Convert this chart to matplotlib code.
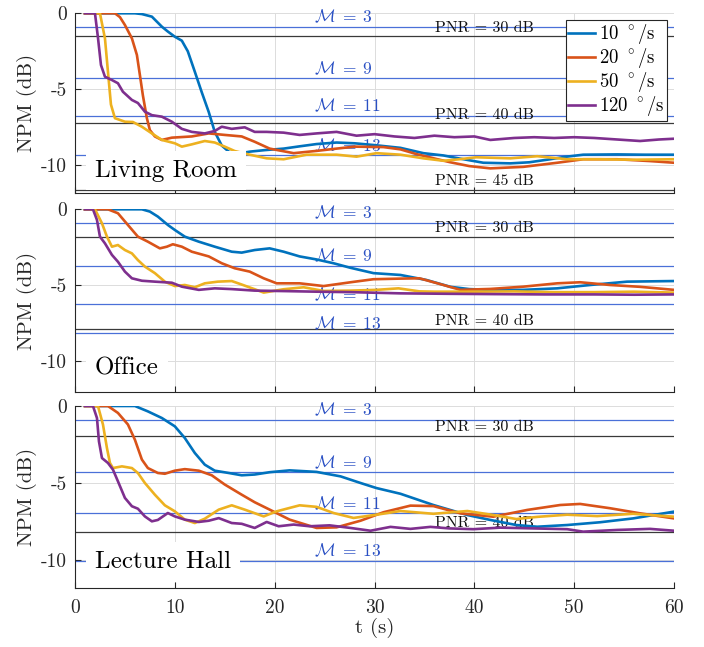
import matplotlib
matplotlib.use("Agg")
import matplotlib.pyplot as plt

plt.rcParams['font.family'] = 'cmr10'
plt.rcParams['mathtext.fontset'] = 'cm'
plt.rcParams['axes.unicode_minus'] = False
plt.rcParams['axes.formatter.use_mathtext'] = True

# ---------------- data ----------------
speeds = ["10", "20", "50", "120"]
colors = ["#0072BD", "#D95319", "#EDB120", "#7E2F8E"]
rooms = ["Living Room", "Office", "Lecture Hall"]

# Living Room
lr_t_10 = [1, 6, 6.7, 7.7, 8.7, 9.3, 10, 10.7, 11.3, 12, 12.7, 13.4, 14, 14.7, 15.4, 16.2, 17.5, 19, 20.9, 22.5, 24.2, 26.2, 28, 30, 32.6, 34.9, 36.9, 38.5, 40.9, 43.6, 45.5, 47.6, 49, 50.9, 54.3, 57, 60]
lr_v_10 = [0, 0, -0.05, -0.22, -0.88, -1.2, -1.54, -1.8, -2.5, -3.84, -5.2, -6.5, -7.8, -8.7, -9.1, -9.25, -9.1, -9.0, -8.9, -8.75, -8.6, -8.5, -8.55, -8.67, -8.85, -9.2, -9.35, -9.55, -9.83, -9.87, -9.8, -9.6, -9.45, -9.3, -9.28, -9.3, -9.3]
lr_t_20 = [1, 4, 4.5, 5, 5.7, 6.2, 6.5, 6.8, 7.2, 7.5, 8, 8.7, 9.7, 11.7, 13.4, 15, 16.7, 18, 19.5, 21.9, 24.2, 26.2, 28, 30.9, 32.6, 34.2, 36, 37.6, 39.5, 41.6, 44.9, 48.3, 50.9, 54.3, 57.6, 60]
lr_v_20 = [0, 0, -0.25, -0.77, -1.65, -2.74, -4.06, -5.4, -6.9, -7.68, -8.1, -8.33, -8.18, -8.1, -7.9, -8.0, -8.1, -8.45, -8.9, -9.2, -9.05, -8.9, -8.77, -8.8, -8.95, -9.26, -9.55, -9.8, -10.05, -10.2, -10.1, -9.83, -9.6, -9.6, -9.72, -9.83]
lr_t_50 = [1, 2.5, 3, 3.3, 3.6, 4, 5, 5.8, 6.7, 7.7, 8.7, 10, 10.7, 11.7, 13, 14, 15, 16, 17.5, 19.2, 20.9, 23.2, 26.2, 28.2, 30.2, 32.6, 34.9, 36.9, 38.5, 40.2, 43.6, 46.3, 49.3, 52.6, 55.9, 60]
lr_v_50 = [0, 0, -1.65, -3.84, -6.0, -6.9, -7.13, -7.15, -7.46, -7.9, -8.33, -8.55, -8.77, -8.62, -8.4, -8.5, -8.77, -9.06, -9.3, -9.54, -9.6, -9.3, -9.3, -9.43, -9.2, -9.3, -9.54, -9.7, -9.6, -9.47, -9.54, -9.4, -9.6, -9.6, -9.63, -9.6]
lr_t_120 = [1, 2, 2.3, 2.6, 3, 3.7, 4.3, 4.8, 5.7, 6.3, 7, 7.7, 8.7, 9.7, 10.7, 11.7, 13, 14, 14.7, 15.7, 17, 18, 19.2, 20.9, 22.5, 24.2, 26.2, 28.2, 30, 32, 34, 36, 38, 40, 41.6, 44, 46, 48, 50, 52, 54.3, 56.6, 58.5, 60]
lr_v_120 = [0, 0, -1.6, -3.4, -4.17, -4.39, -4.6, -5.16, -5.7, -5.9, -6.47, -6.7, -6.8, -7.13, -7.6, -7.8, -7.9, -7.74, -7.46, -7.6, -7.5, -7.8, -7.8, -7.85, -8.0, -7.9, -7.8, -8.05, -7.95, -8.1, -8.2, -8.05, -8.15, -8.1, -8.33, -8.2, -8.15, -8.2, -8.15, -8.2, -8.3, -8.4, -8.3, -8.25]

# Office
of_t_10 = [1, 6.7, 7.5, 8.3, 9.3, 10, 11, 12.4, 14, 15.7, 16.7, 18, 19.5, 20.9, 22.5, 24.2, 25.9, 27.6, 29.9, 32.6, 35.2, 37.6, 39.5, 41.6, 44.9, 48.3, 51.6, 55.3, 60]
of_v_10 = [0, 0, -0.15, -0.48, -1.03, -1.36, -1.8, -2.13, -2.46, -2.79, -2.85, -2.68, -2.57, -2.79, -3.1, -3.3, -3.55, -3.85, -4.2, -4.32, -4.65, -5.1, -5.25, -5.3, -5.3, -5.2, -4.98, -4.76, -4.72]
of_t_20 = [1, 3.3, 4.3, 5.3, 6.3, 7.3, 8.5, 9.2, 9.8, 10.7, 11.7, 13.4, 14.7, 16, 17.5, 18.9, 20.2, 22.5, 24.9, 27.6, 29.9, 32.6, 34.5, 36.9, 38.6, 41.6, 44.9, 48.3, 50.6, 53.6, 56.6, 60]
of_v_20 = [0, 0, -0.26, -1.03, -1.8, -2.13, -2.57, -2.46, -2.3, -2.46, -2.79, -3.1, -3.55, -3.88, -4.1, -4.54, -4.87, -4.87, -5.05, -4.8, -4.6, -4.56, -4.54, -4.98, -5.3, -5.24, -5.09, -4.87, -4.8, -4.98, -5.1, -5.3]
of_t_50 = [1, 2, 2.7, 3.2, 3.7, 4.3, 5, 5.7, 6.3, 7, 8, 9, 10, 11, 12, 13, 14.3, 15.7, 16.7, 18, 18.9, 20.9, 22.9, 24.9, 27.6, 30.2, 32.4, 34.5, 36, 40, 44, 48, 52, 56, 60]
of_v_50 = [0, 0, -0.92, -1.8, -2.46, -2.35, -2.68, -2.9, -3.34, -3.77, -4.2, -4.76, -5.05, -4.98, -5.13, -4.87, -4.76, -4.72, -4.95, -5.26, -5.48, -5.26, -5.13, -5.37, -5.35, -5.3, -5.2, -5.4, -5.42, -5.42, -5.4, -5.45, -5.45, -5.42, -5.48]
of_t_120 = [1, 1.8, 2.2, 2.5, 3, 3.7, 4.3, 5, 5.7, 6.7, 8, 9.7, 10.7, 12.4, 14, 15.7, 18, 20.9, 24.2, 27.6, 32.6, 37.6, 42, 47, 52, 56, 60]
of_v_120 = [0, 0, -0.7, -1.8, -2.24, -3.0, -3.45, -4.1, -4.54, -4.7, -4.76, -4.83, -5.09, -5.3, -5.2, -5.25, -5.35, -5.38, -5.42, -5.45, -5.53, -5.56, -5.58, -5.6, -5.6, -5.62, -5.6]

# Lecture Hall
lh_t_10 = [1, 6, 7.3, 8.7, 10, 11, 12, 13, 14, 15.4, 16.7, 18, 19.5, 21.5, 24.2, 26.6, 28.6, 30.2, 32.6, 35.9, 39.3, 41.6, 44.2, 46.3, 49.3, 52.6, 55.9, 60]
lh_v_10 = [0, 0, -0.35, -0.78, -1.32, -2.08, -3.05, -3.81, -4.2, -4.35, -4.5, -4.45, -4.3, -4.18, -4.28, -4.57, -5.0, -5.33, -5.7, -6.43, -7.08, -7.4, -7.73, -7.84, -7.73, -7.55, -7.3, -6.86]
lh_t_20 = [1, 3.3, 4.3, 5.3, 6, 6.7, 7.3, 8.3, 9, 10, 11, 12.4, 13.7, 15, 16.7, 18, 19.5, 21.5, 24.2, 26.2, 28.6, 30.9, 33.6, 35.9, 38.6, 41.9, 45.3, 48.6, 50.6, 53.6, 56.6, 60]
lh_v_20 = [0, 0, -0.45, -1.2, -2.19, -3.48, -4.03, -4.35, -4.4, -4.2, -4.1, -4.2, -4.5, -5.1, -5.76, -6.25, -6.73, -7.38, -7.92, -7.88, -7.45, -6.9, -6.47, -6.5, -6.97, -7.19, -6.75, -6.43, -6.36, -6.64, -6.97, -7.3]
lh_t_50 = [1, 2.3, 2.8, 3.2, 3.5, 3.8, 4.7, 5.7, 6.3, 7, 8, 9, 10, 11, 12, 13, 14.4, 15.7, 17, 18.9, 20.2, 22.5, 24.2, 25.9, 27.9, 30.2, 32.6, 35.9, 39.3, 41.9, 44.2, 46.3, 49.3, 52.3, 55.9, 60]
lh_v_50 = [0, 0, -1.2, -2.73, -3.7, -4.03, -3.92, -4.03, -4.35, -5.0, -5.76, -6.45, -6.84, -7.38, -7.6, -7.32, -6.73, -6.45, -6.73, -7.17, -6.84, -6.45, -6.55, -6.95, -7.27, -7.06, -6.82, -7.0, -6.82, -7.08, -7.34, -7.2, -7.06, -7.15, -7.0, -7.19]
lh_t_120 = [1, 1.8, 2.2, 2.4, 2.7, 3.3, 3.8, 4.3, 5, 5.7, 6.3, 7, 7.7, 8.3, 9.3, 10, 11, 12.4, 13.4, 14.4, 15.7, 16.7, 18, 19.2, 20.4, 21.9, 23.5, 25.5, 27.6, 29.6, 31.6, 33.6, 35.6, 37.5, 39.9, 42.6, 45.9, 49.3, 50.9, 54.3, 57.6, 60]
lh_v_120 = [0, 0, -0.78, -2.3, -3.38, -3.7, -4.13, -4.89, -5.97, -6.51, -6.67, -7.17, -7.49, -7.4, -6.95, -7.17, -7.38, -7.53, -7.45, -7.28, -7.6, -7.65, -7.92, -7.53, -7.81, -7.7, -7.81, -7.75, -7.92, -8.1, -7.85, -7.98, -7.85, -7.95, -8.0, -7.9, -7.95, -8.0, -8.16, -8.05, -7.98, -8.1]

# reference levels
m_orders = [3, 9, 11, 13]
lr_m_levels = [-0.88, -4.26, -6.74, -9.35]
of_m_levels = [-0.88, -3.73, -6.25, -8.16]
lh_m_levels = [-0.91, -4.31, -6.97, -10.06]
lr_pnr = [30, 40, 45]
lr_pnr_levels = [-1.5, -7.24, -11.6]
of_pnr = [30, 40]
of_pnr_levels = [-1.8, -7.9]
lh_pnr = [30, 40]
lh_pnr_levels = [-1.93, -8.16]

panels = [
    dict(name=rooms[0], t=[lr_t_10, lr_t_20, lr_t_50, lr_t_120], v=[lr_v_10, lr_v_20, lr_v_50, lr_v_120],
         m=lr_m_levels, p=lr_pnr, pl=lr_pnr_levels, ylow=-11.8, text_y=-10.75),
    dict(name=rooms[1], t=[of_t_10, of_t_20, of_t_50, of_t_120], v=[of_v_10, of_v_20, of_v_50, of_v_120],
         m=of_m_levels, p=of_pnr, pl=of_pnr_levels, ylow=-12.0, text_y=-10.9),
    dict(name=rooms[2], t=[lh_t_10, lh_t_20, lh_t_50, lh_t_120], v=[lh_v_10, lh_v_20, lh_v_50, lh_v_120],
         m=lh_m_levels, p=lh_pnr, pl=lh_pnr_levels, ylow=-11.8, text_y=-10.54),
]

W, H = 704, 647
fig = plt.figure(figsize=(W / 100, H / 100), dpi=100)
rects = [(13.3, 192.7), (209.3, 391.7), (406.0, 587.7)]
left, right = 75, 674

m_color = "#4a70d8"
m_text = "#2a50c4"
pnr_color = "#3a3a3a"
axc = "#262626"

for i, (pn, (top, bot)) in enumerate(zip(panels, rects)):
    ax = fig.add_axes([left / W, (H - bot) / H, (right - left) / W, (bot - top) / H])
    ax.set_xlim(0, 60)
    ax.set_ylim(pn['ylow'], 0)
    ax.set_xticks([0, 10, 20, 30, 40, 50, 60])
    ax.set_yticks([-10, -5, 0])
    ax.set_yticklabels(["-10", "-5", "0"])
    if i < 2:
        ax.set_xticklabels([])
    else:
        ax.set_xticklabels(["0", "10", "20", "30", "40", "50", "60"])
    ax.grid(True, color="#dcdcdc", lw=0.7)
    ax.set_axisbelow(True)
    for s in ['top', 'right']:
        ax.spines[s].set_visible(False)
    for s in ['left', 'bottom']:
        ax.spines[s].set_color(axc)
        ax.spines[s].set_linewidth(0.8)
    ax.tick_params(direction='in', length=4, width=0.8, color=axc, labelsize=14,
                   labelcolor=axc)
    ax.tick_params(axis='y', pad=6)
    ax.tick_params(axis='x', pad=8)

    for order, lev in zip(m_orders, pn['m']):
        ax.axhline(lev, color=m_color, lw=0.9, zorder=1.5)
        ax.text(23.9, lev + 0.08, r"$\mathcal{M}\;=\;%d$" % order, color=m_text,
                fontsize=12.5, ha='left', va='bottom', zorder=1.6)
    for pv, lev in zip(pn['p'], pn['pl']):
        ax.axhline(lev, color=pnr_color, lw=0.9, zorder=1.5)
        ax.text(36.1, lev + 0.1, "PNR = %d dB" % pv, color="#111111",
                fontsize=11.5, ha='left', va='bottom', zorder=1.6)

    lines = []
    for k in range(4):
        ln, = ax.plot(pn['t'][k], pn['v'][k], color=colors[k], lw=1.9, zorder=3,
                      solid_joinstyle='round')
        lines.append(ln)

    ax.text(2.0, pn['text_y'], pn['name'], fontsize=18, ha='left', va='baseline',
            zorder=5, color="black",
            bbox=dict(boxstyle='square,pad=0.35', fc='white', ec='none'))

    ax.set_ylabel("NPM (dB)", fontsize=15, color=axc)
    ax.yaxis.set_label_coords(-0.063, 0.5)

    if i == 0:
        leg = ax.legend(lines, [r"%s $^\circ$/s" % s for s in speeds], loc='upper right',
                        fontsize=13.5, frameon=True, fancybox=False, framealpha=1,
                        edgecolor=axc, borderaxespad=0.37, handlelength=1.45,
                        handletextpad=0.2, labelspacing=0.0, borderpad=0.12)
        leg.get_frame().set_linewidth(0.8)
        leg.set_zorder(6)
    if i == 2:
        ax.set_xlabel("t (s)", fontsize=15, color=axc)
        ax.xaxis.set_label_coords(0.5, -0.165)

fig.savefig("out.png", dpi=100)
